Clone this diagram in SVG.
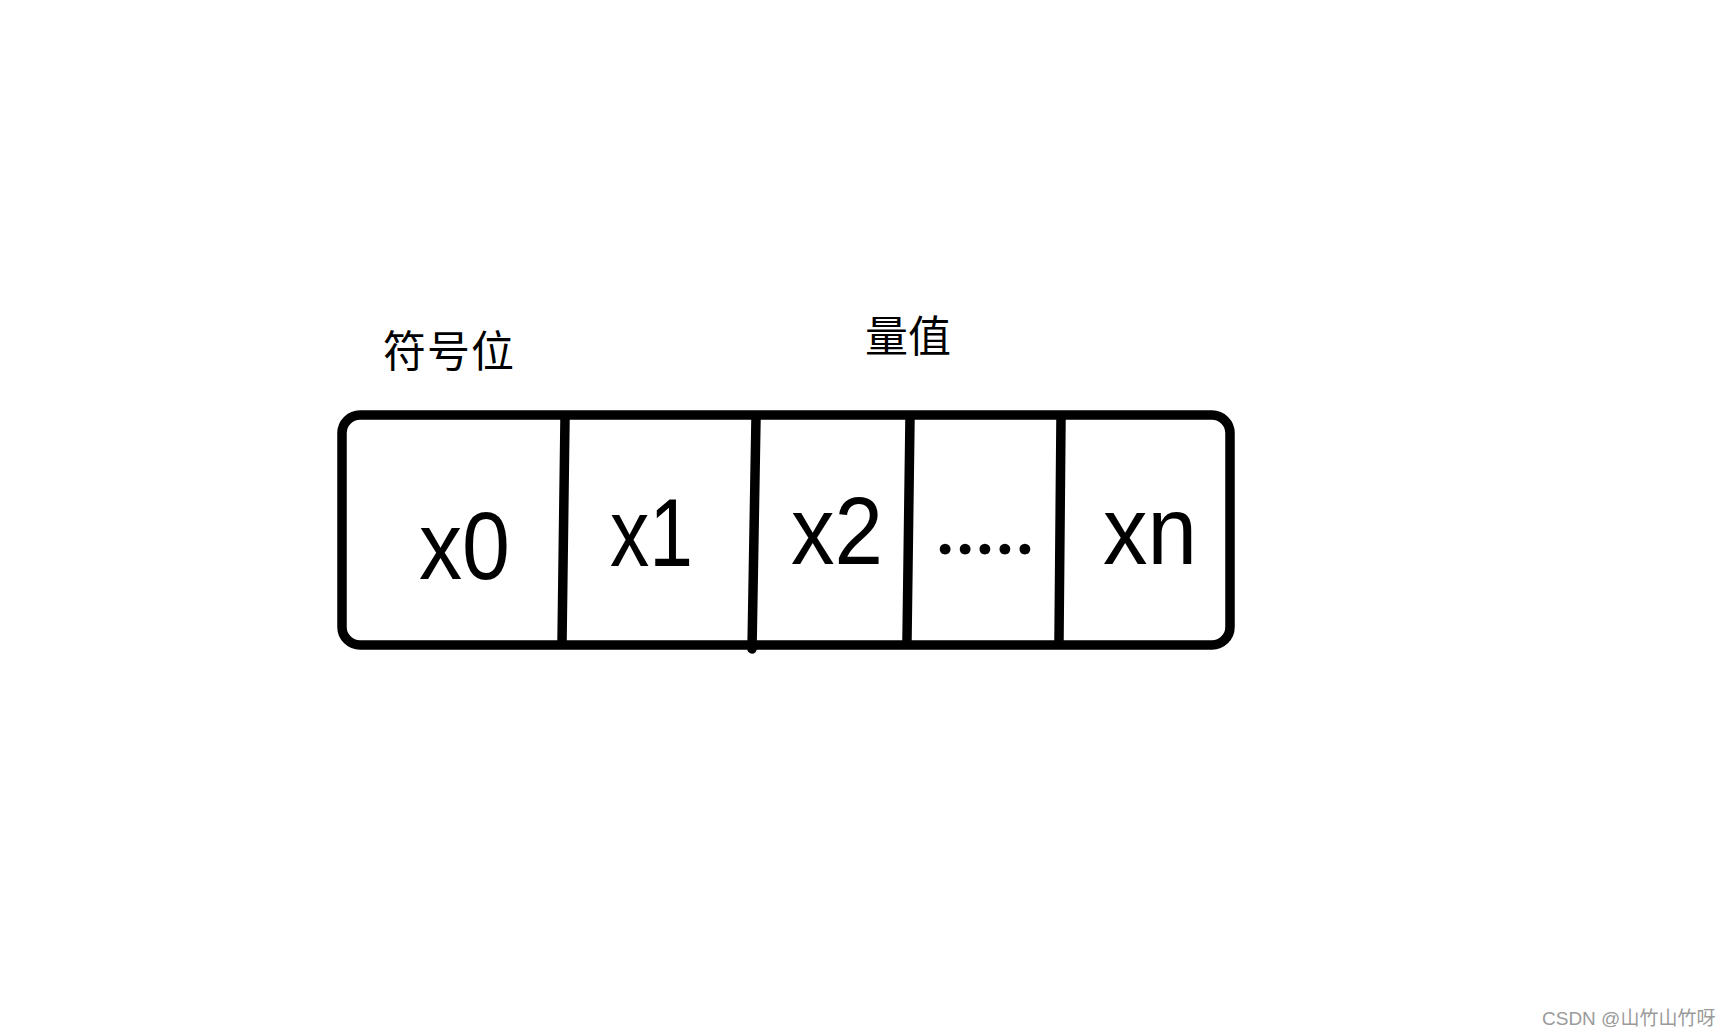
<svg xmlns="http://www.w3.org/2000/svg" width="1730" height="1036" viewBox="0 0 1730 1036">
<style>
.cell{font-family:"Liberation Sans","Noto Sans CJK SC",sans-serif;font-size:96px;fill:#000}
.dots{font-family:Lato,"Liberation Sans",sans-serif;font-size:86px;fill:#000}
.lbl{font-family:"Noto Sans CJK SC",sans-serif;font-size:43px;fill:#000}
.ln{stroke:#000;stroke-width:9.5;fill:none;stroke-linecap:round}
.wm{font-family:"Liberation Sans","Noto Sans CJK SC",sans-serif;font-size:19px;fill:#9a9a9a}
</style>
<rect width="1730" height="1036" fill="#fff"/>
<g id="label-sign"><text class="lbl" x="383" y="367" textLength="131">符号位</text></g>
<g id="label-magnitude"><text class="lbl" x="865" y="352" textLength="86">量值</text></g>
<g id="register">
<rect class="ln" x="342" y="415" width="888" height="230" rx="18"/>
</g>
<g id="connectors">
<line class="ln" x1="565" y1="418" x2="562" y2="643"/>
<line class="ln" x1="756" y1="418" x2="752" y2="649"/>
<line class="ln" x1="910" y1="418" x2="907" y2="640"/>
<line class="ln" x1="1061" y1="418" x2="1059" y2="640"/>
</g>
<g id="cell-x0"><text class="cell" x="419" y="579" textLength="91" lengthAdjust="spacingAndGlyphs">x0</text></g>
<g id="cell-x1"><text class="cell" x="610" y="566" textLength="83" lengthAdjust="spacingAndGlyphs">x1</text></g>
<g id="cell-x2"><text class="cell" x="791" y="564" textLength="92" lengthAdjust="spacingAndGlyphs">x2</text></g>
<g id="cell-dots"><text class="dots" x="935" y="554" textLength="100" lengthAdjust="spacing">.....</text></g>
<g id="cell-xn"><text class="cell" x="1103" y="564" textLength="94" lengthAdjust="spacingAndGlyphs">xn</text></g>
<text class="wm" x="1542" y="1025">CSDN @山竹山竹呀</text>
</svg>
